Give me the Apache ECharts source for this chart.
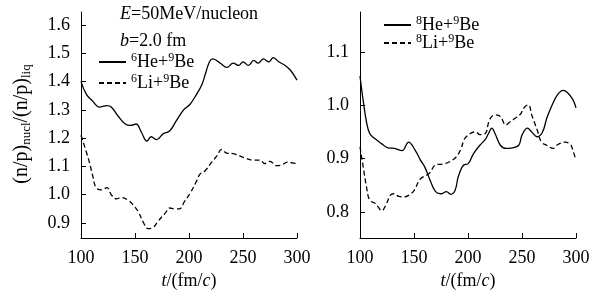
<!DOCTYPE html>
<html>
<head>
<meta charset="utf-8">
<script src="https://cdn.jsdelivr.net/npm/echarts@6/dist/echarts.min.js"></script>
<style>
  html, body { margin: 0; padding: 0; background: #fff; }
  #chart { width: 602px; height: 298px; }
</style>
</head>
<body>
<div id="chart"></div>
<script>
const FONT = 'Liberation Serif'

// left panel: 6He+9Be (solid), 6Li+9Be (dashed)
const he6T = [100, 105, 111, 117, 124, 128, 134, 141, 146, 151, 156, 161, 165, 170, 176, 182, 188, 195, 201, 207, 212, 215, 219, 222, 229, 235, 241, 246, 250, 255, 260, 264, 269, 274, 278, 283, 289, 294, 300]
const he6V = [1.40, 1.355, 1.33, 1.31, 1.315, 1.31, 1.28, 1.25, 1.245, 1.25, 1.22, 1.19, 1.205, 1.195, 1.215, 1.225, 1.26, 1.30, 1.32, 1.355, 1.39, 1.425, 1.47, 1.48, 1.465, 1.45, 1.465, 1.457, 1.47, 1.457, 1.475, 1.465, 1.48, 1.47, 1.485, 1.47, 1.457, 1.44, 1.405]
const li6T = [100, 107, 111, 114, 119, 124, 128, 133, 137, 144, 148, 153, 158, 162, 167, 171, 178, 182, 187, 191, 196, 201, 207, 210, 215, 221, 226, 230, 235, 241, 247, 253, 260, 266, 270, 275, 281, 286, 291, 295, 300]
const li6V = [1.21, 1.125, 1.065, 1.025, 1.017, 1.025, 1.0, 0.985, 0.99, 0.98, 0.965, 0.94, 0.90, 0.88, 0.885, 0.905, 0.935, 0.953, 0.95, 0.95, 0.977, 1.005, 1.048, 1.072, 1.085, 1.115, 1.138, 1.16, 1.147, 1.145, 1.137, 1.128, 1.122, 1.122, 1.11, 1.118, 1.103, 1.105, 1.115, 1.113, 1.11]

// right panel: 8He+9Be (solid), 8Li+9Be (dashed)
const he8T = [100, 103, 106, 109, 114, 120, 126, 132, 139, 145, 151, 156, 160, 165, 170, 175, 180, 184, 188, 191, 196, 200, 205, 211, 216, 219, 222, 225, 230, 235, 241, 247, 250, 255, 259, 264, 269, 273, 278, 283, 288, 292, 297, 300]
const he8V = [1.055, 1.008, 0.969, 0.947, 0.937, 0.928, 0.92, 0.919, 0.915, 0.931, 0.916, 0.897, 0.884, 0.859, 0.838, 0.834, 0.838, 0.833, 0.84, 0.866, 0.888, 0.89, 0.909, 0.925, 0.936, 0.947, 0.957, 0.947, 0.925, 0.919, 0.92, 0.925, 0.944, 0.957, 0.95, 0.941, 0.95, 0.976, 1.001, 1.02, 1.028, 1.024, 1.011, 0.995]
const li8T = [100, 103, 106, 109, 114, 117, 120, 124, 128, 131, 136, 141, 145, 150, 156, 164, 170, 177, 183, 189, 193, 196, 197, 202, 207, 211, 216, 220, 225, 230, 235, 239, 244, 248, 253, 256, 259, 264, 268, 273, 279, 282, 290, 295, 297, 300]
const li8V = [0.922, 0.884, 0.847, 0.822, 0.816, 0.809, 0.802, 0.813, 0.831, 0.834, 0.829, 0.828, 0.831, 0.84, 0.862, 0.872, 0.888, 0.89, 0.894, 0.903, 0.916, 0.934, 0.938, 0.947, 0.95, 0.945, 0.947, 0.973, 0.982, 0.979, 0.963, 0.969, 0.976, 0.982, 0.998, 1.001, 0.982, 0.954, 0.931, 0.925, 0.919, 0.925, 0.931, 0.926, 0.916, 0.897]

const xTicks = [100, 150, 200, 250, 300]
const leftYTicks = [0.9, 1.0, 1.1, 1.2, 1.3, 1.4, 1.5, 1.6]
const rightYTicks = [0.8, 0.9, 1.0, 1.1]

const pairs = (ts, vs) => ts.map((t, i) => [t, vs[i]])

const supName = {
  '6He+9Be': '{s|6}{n|He+}{s|9}{n|Be}',
  '6Li+9Be': '{s|6}{n|Li+}{s|9}{n|Be}',
  '8He+9Be': '{s|8}{n|He+}{s|9}{n|Be}',
  '8Li+9Be': '{s|8}{n|Li+}{s|9}{n|Be}'
}
const rich = {
  n: { fontFamily: FONT, fontSize: 18, color: '#000', lineHeight: 20 },
  s: { fontFamily: FONT, fontSize: 12, color: '#000', verticalAlign: 'top', lineHeight: 20, padding: [0, 0, 8, 0] },
  i: { fontFamily: FONT, fontSize: 18, color: '#000', fontStyle: 'italic' },
  t: { fontFamily: FONT, fontSize: 20, color: '#000' },
  sub: { fontFamily: FONT, fontSize: 13, color: '#000', padding: [9, 0, 0, 0] }
}

const xAxisBase = (idx) => ({
  gridIndex: idx,
  type: 'value',
  min: 100,
  max: 300,
  interval: 50,
  axisLine: { show: true, lineStyle: { color: '#000', width: 1 } },
  axisTick: { show: true, inside: true, length: 5, lineStyle: { color: '#000' }, customValues: xTicks },
  axisLabel: { color: '#000', fontFamily: FONT, fontSize: 18, margin: 11, customValues: xTicks },
  splitLine: { show: false },
  name: '{i|t}{n|/(fm/}{i|c}{n|)}',
  nameLocation: 'middle',
  nameGap: 33,
  nameTextStyle: { rich }
})

const yAxisBase = (idx, min, max, ticks) => ({
  gridIndex: idx,
  type: 'value',
  min,
  max,
  axisLine: { show: true, lineStyle: { color: '#000', width: 1 } },
  axisTick: { show: true, inside: true, length: 5, lineStyle: { color: '#000' }, customValues: ticks },
  axisLabel: { color: '#000', fontFamily: FONT, fontSize: 18, margin: 11, customValues: ticks, formatter: (v) => v.toFixed(1) },
  splitLine: { show: false }
})

const lineSeries = (name, data, idx, dashed) => ({
  name,
  type: 'line',
  xAxisIndex: idx,
  yAxisIndex: idx,
  data,
  smooth: 0.4,
  symbol: 'none',
  lineStyle: { color: '#000', width: 1.3, type: dashed ? [5, 3] : 'solid' },
  itemStyle: { color: '#000' }
})

const legendBase = (data, left, top, gap) => ({
  data,
  orient: 'vertical',
  left,
  top,
  itemWidth: 27,
  itemHeight: 12,
  itemGap: gap,
  formatter: (n) => supName[n],
  textStyle: { rich },
  itemStyle: { color: 'rgba(0,0,0,0)', borderWidth: 0, opacity: 0 },
  selectedMode: false
})

const chart = echarts.init(document.getElementById('chart'), null, { renderer: 'canvas' })
chart.setOption({
  animation: false,
  backgroundColor: '#fff',
  grid: [
    { left: 81, top: 12, width: 216, height: 226 },
    { left: 360, top: 12, width: 216, height: 226 }
  ],
  xAxis: [xAxisBase(0), xAxisBase(1)],
  yAxis: [yAxisBase(0, 0.847, 1.646, leftYTicks), yAxisBase(1, 0.751, 1.175, rightYTicks)],
  legend: [
    legendBase(['6He+9Be', '6Li+9Be'], 93, 47, 1),
    legendBase(['8He+9Be', '8Li+9Be'], 378, 10, -2)
  ],
  graphic: [
    {
      type: 'text',
      left: 120,
      top: 5,
      style: { text: '{i|E}{n|=50MeV/nucleon}', rich }
    },
    {
      type: 'text',
      left: 120,
      top: 32,
      style: { text: '{i|b}{n|=2.0 fm}', rich }
    },
    {
      type: 'text',
      x: 22,
      y: 124,
      rotation: Math.PI / 2,
      style: { text: '{t|(n/p)}{sub|nucl}{t|/(n/p)}{sub|liq}', rich, align: 'center', verticalAlign: 'middle' }
    }
  ],
  series: [
    lineSeries('6He+9Be', pairs(he6T, he6V), 0, false),
    lineSeries('6Li+9Be', pairs(li6T, li6V), 0, true),
    lineSeries('8He+9Be', pairs(he8T, he8V), 1, false),
    lineSeries('8Li+9Be', pairs(li8T, li8V), 1, true)
  ]
})
</script>
</body>
</html>
